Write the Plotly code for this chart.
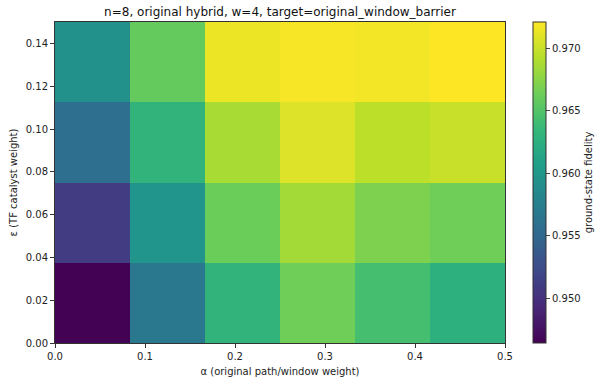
import numpy as np
import plotly.graph_objects as go

alpha_edges = [0.0, 0.0833, 0.1667, 0.25, 0.3333, 0.4167, 0.5]
eps_edges = [0.0, 0.0375, 0.075, 0.1125, 0.15]

# rows: eps from bottom to top; columns: alpha from left to right
fidelity = [
    [0.9465, 0.9567, 0.9631, 0.9664, 0.9644, 0.9626],
    [0.9511, 0.9598, 0.9662, 0.9685, 0.9670, 0.9664],
    [0.9557, 0.9631, 0.9687, 0.9708, 0.9695, 0.9700],
    [0.9593, 0.9659, 0.9714, 0.9718, 0.9717, 0.9721],
]

x_ticks = [0.0, 0.1, 0.2, 0.3, 0.4, 0.5]
y_ticks = [0.0, 0.02, 0.04, 0.06, 0.08, 0.10, 0.12, 0.14]
cb_ticks = [0.950, 0.955, 0.960, 0.965, 0.970]

font = "DejaVu Sans"

fig = go.Figure(go.Heatmap(
    x=alpha_edges, y=eps_edges, z=fidelity,
    colorscale="Viridis", zmin=0.94645, zmax=0.97208,
    colorbar=dict(
        x=1.062, xanchor="left", xpad=0, ypad=0, y=0, yanchor="bottom", len=1.0, lenmode="fraction",
        thickness=13, outlinecolor="#333", outlinewidth=1,
        ticks="outside", ticklen=4, tickvals=cb_ticks,
        ticktext=[f"{v:.3f}" for v in cb_ticks],
        tickfont=dict(family=font, size=10, color="#222"),
        title=dict(text="ground-state fidelity", side="right",
                   font=dict(family=font, size=10, color="#222")),
    ),
    hoverongaps=False,
))

axis_common = dict(
    showgrid=False, zeroline=False, showline=True, linecolor="#333", linewidth=1,
    mirror=True, ticks="outside", ticklen=4, tickcolor="#333",
    tickfont=dict(family=font, size=10, color="#222"),
)

fig.update_layout(
    width=611, height=385,
    margin=dict(l=55, r=106, t=22, b=42, autoexpand=False),
    paper_bgcolor="white", plot_bgcolor="white",
    title=dict(text="n=8, original hybrid, w=4, target=original_window_barrier",
               x=0.5, xref="paper", xanchor="center", y=1 - 12/385, yanchor="middle",
               font=dict(family=font, size=12, color="#111")),
    xaxis=dict(range=[0, 0.5], tickvals=x_ticks, ticktext=[f"{v:.1f}" for v in x_ticks],
               title=dict(text="α (original path/window weight)", standoff=6,
                          font=dict(family=font, size=10, color="#222")),
               **axis_common),
    yaxis=dict(range=[0, 0.15], tickvals=y_ticks, ticktext=[f"{v:.2f}" for v in y_ticks],
               title=dict(text="ε (TF catalyst weight)", standoff=6,
                          font=dict(family=font, size=10, color="#222")),
               **axis_common),
)

fig.write_html("out.html")
